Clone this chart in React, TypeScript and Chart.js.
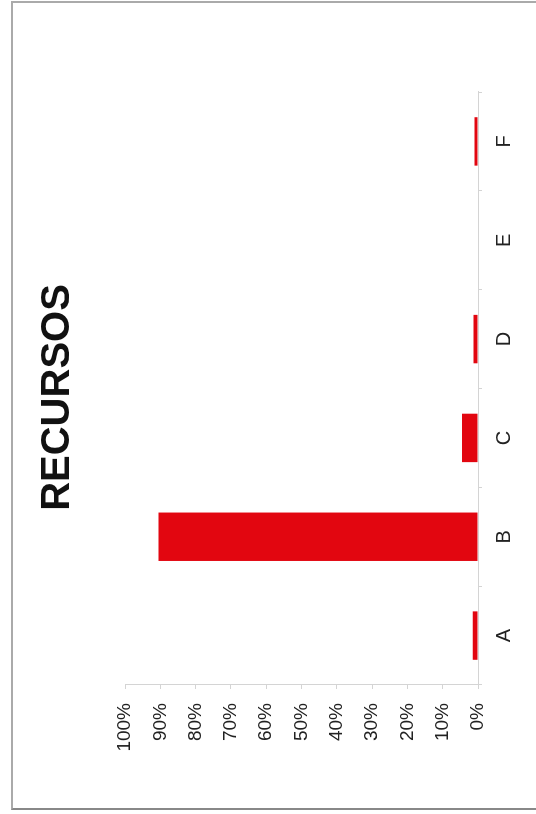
import React, { useEffect, useRef } from "react";
import { Chart, registerables } from "chart.js";

Chart.register(...registerables);

const categories = ["A", "B", "C", "D", "E", "F"];
const values = [1.5, 90.5, 4.5, 1.3, 0, 1];
const titleText = "RECURSOS";
const valueMax = 100;
const valueStep = 10;

const FONT = "'Liberation Sans', Arial, sans-serif";

const titlePlugin = {
  id: "offsetTitle",
  afterDraw(chart: any) {
    const ctx = chart.ctx;
    const area = chart.chartArea;
    ctx.save();
    ctx.font = `bold 40px ${FONT}`;
    ctx.fillStyle = "#111";
    ctx.textAlign = "center";
    ctx.textBaseline = "middle";
    ctx.fillText(titleText, (area.left + area.right) / 2 - 9, 58);
    ctx.restore();
  },
};

export default function App() {
  const ref = useRef<HTMLCanvasElement | null>(null);

  useEffect(() => {
    if (!ref.current) return;
    const chart = new Chart(ref.current, {
      type: "bar",
      data: {
        labels: categories,
        datasets: [
          {
            data: values,
            backgroundColor: "rgb(226,6,16)",
            borderWidth: 0,
            categoryPercentage: 1,
            barPercentage: 0.49,
          },
        ],
      },
      options: {
        animation: false,
        responsive: false,
        maintainAspectRatio: false,
        layout: { padding: { left: 62, right: 92, top: 125, bottom: 0 } },
        plugins: {
          legend: { display: false },
          tooltip: { enabled: false },
          title: { display: false },
        },
        scales: {
          x: {
            offset: true,
            grid: {
              offset: true,
              drawOnChartArea: false,
              tickLength: 4,
              color: "#d4d4d4",
            },
            border: { color: "#d4d4d4", width: 1 },
            ticks: {
              color: "#222",
              padding: 10,
              font: { family: FONT, size: 20 },
            },
            afterFit: (s: any) => {
              s.height = 58;
            },
          },
          y: {
            min: 0,
            max: valueMax,
            grid: {
              drawOnChartArea: false,
              tickLength: 4,
              color: "#d4d4d4",
            },
            border: { color: "#d4d4d4", width: 1 },
            ticks: {
              stepSize: valueStep,
              color: "#222",
              padding: 14,
              font: { family: FONT, size: 19 },
              callback: (v: any) => v + "%",
            },
            afterFit: (s: any) => {
              s.width = 67;
            },
          },
        },
      },
      plugins: [titlePlugin],
    });
    return () => chart.destroy();
  }, []);

  return (
    <div
      style={{
        position: "fixed",
        left: 0,
        top: 0,
        width: 536,
        height: 814,
        background: "#fff",
        overflow: "hidden",
      }}
    >
      <div
        style={{
          position: "absolute",
          left: 11,
          top: 1,
          width: 525,
          height: 809,
          borderLeft: "2px solid #aaa",
          borderTop: "2px solid #aaa",
          borderBottom: "2px solid #888",
          boxSizing: "border-box",
        }}
      />
      <div
        style={{
          position: "absolute",
          left: 0,
          top: 0,
          width: 814,
          height: 536,
          transformOrigin: "0 0",
          transform: "translate(0px, 814px) rotate(-90deg)",
        }}
      >
        <canvas ref={ref} width={814} height={536} style={{ display: "block" }} />
      </div>
    </div>
  );
}
